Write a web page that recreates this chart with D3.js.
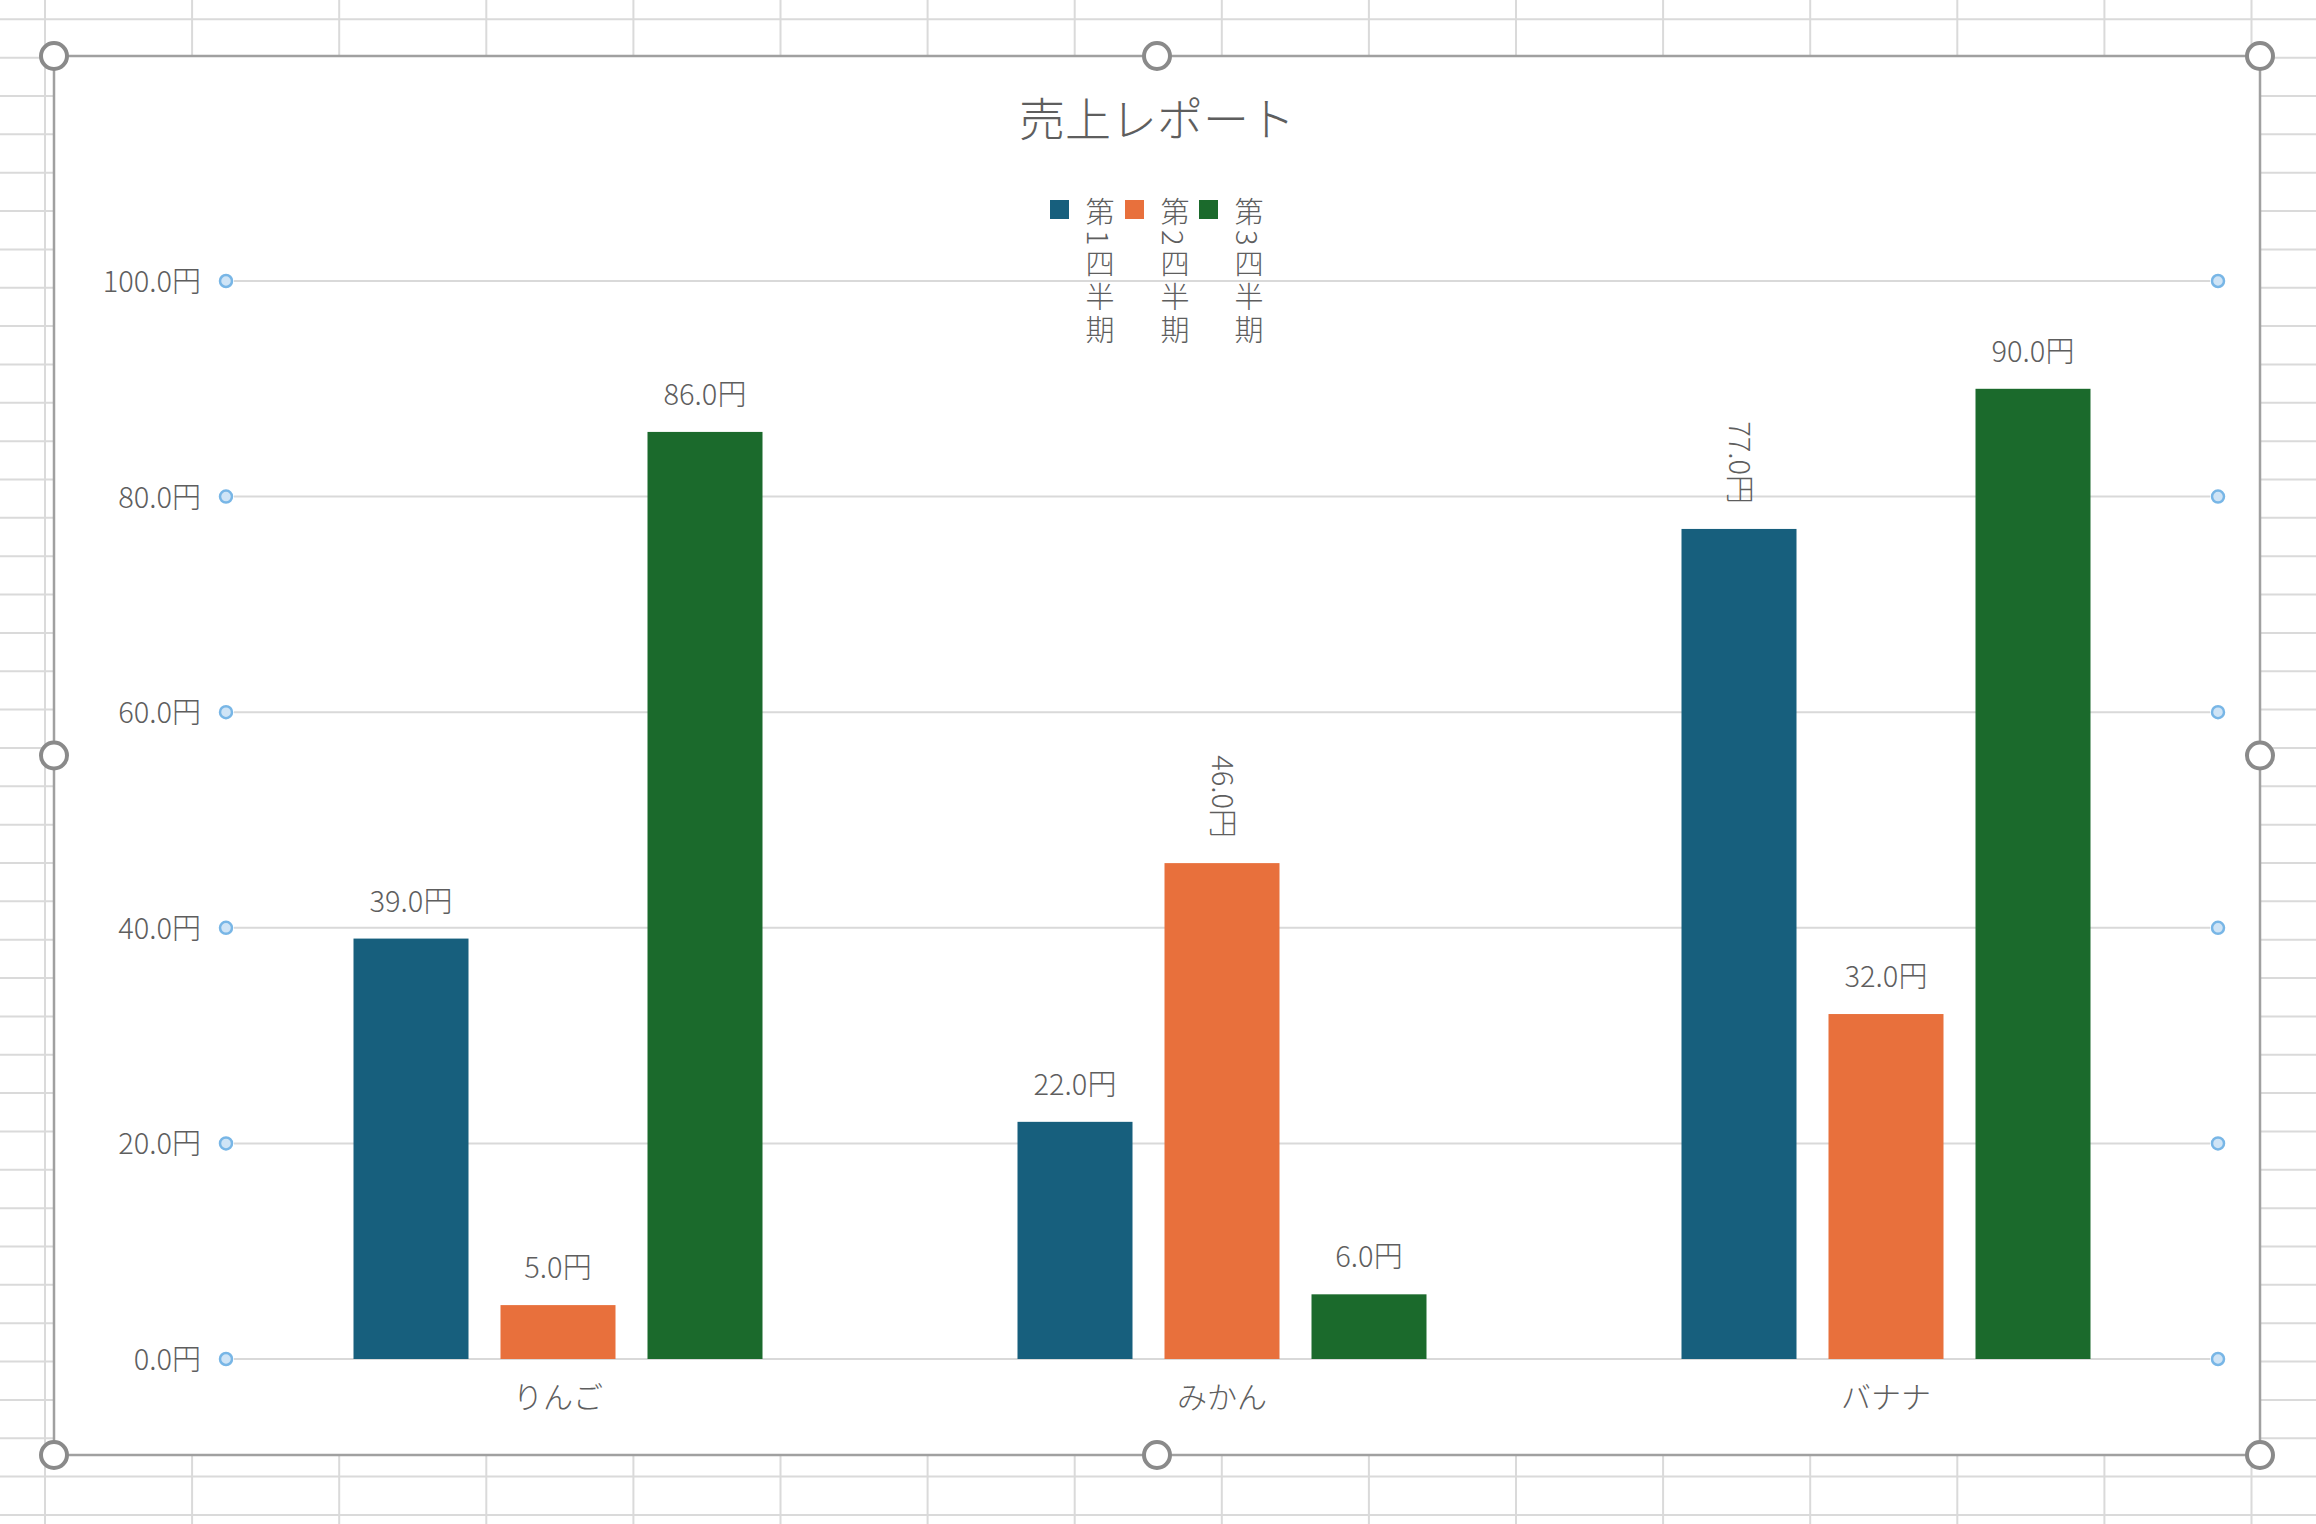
<!DOCTYPE html>
<html><head><meta charset="utf-8">
<script src="https://cdn.jsdelivr.net/npm/d3@7/dist/d3.min.js"></script>
<style>
html,body{margin:0;padding:0;background:#fff;}
svg{display:block;}
text{font-family:"Noto Sans CJK JP","Noto Sans",sans-serif;font-weight:300;}
</style></head>
<body>
<svg id="c" width="2316" height="1524"></svg>
<script>
const title = "売上レポート";
const categories = ["りんご", "みかん", "バナナ"];
const seriesNames = ["第1四半期", "第2四半期", "第3四半期"];
const q1 = [39, 22, 77];
const q2 = [5, 46, 32];
const q3 = [86, 6, 90];
const yTicks = [0, 20, 40, 60, 80, 100];
const verticalLabelsQ1 = [false, false, true];
const verticalLabelsQ2 = [false, true, false];
const verticalLabelsQ3 = [false, false, false];
const colors = ["#175f7d", "#e8703c", "#1b6a2c"];

const series = [q1, q2, q3];
const verticalFlags = [verticalLabelsQ1, verticalLabelsQ2, verticalLabelsQ3];

const W = 2316, H = 1524;
const svg = d3.select("#c");
const textColor = "#5e5e5e";
const ff = '"Noto Sans CJK JP","Noto Sans",sans-serif';

// spreadsheet background grid
const bg = svg.append("g");
for (let x = 45; x < W; x += 147.1) {
  bg.append("line").attr("x1", x).attr("x2", x).attr("y1", 0).attr("y2", H)
    .attr("stroke", "#dadada").attr("stroke-width", 2);
}
for (let y = 19.3; y < H; y += 38.35) {
  bg.append("line").attr("x1", 0).attr("x2", W).attr("y1", y).attr("y2", y)
    .attr("stroke", "#dadada").attr("stroke-width", 2);
}

// chart area
const frame = {x0: 54, y0: 56, x1: 2260, y1: 1455};
svg.append("rect").attr("x", frame.x0).attr("y", frame.y0)
  .attr("width", frame.x1 - frame.x0).attr("height", frame.y1 - frame.y0)
  .attr("fill", "#fff").attr("stroke", "#a0a0a0").attr("stroke-width", 2.5);

const plotLeft = 226, plotRight = 2218;
const y = d3.scaleLinear().domain([0, 100]).range([1359, 281]);
const x0 = d3.scaleBand().domain(categories).range([plotLeft, plotRight]).padding(0);
const groupPad = 127.5;
const x1 = d3.scaleBand().domain(seriesNames)
  .range([groupPad, x0.bandwidth() - groupPad]).paddingInner(0.2177).paddingOuter(0);

// gridlines
const grid = svg.append("g");
grid.selectAll("line").data(yTicks).join("line")
  .attr("x1", plotLeft + 8).attr("x2", plotRight - 8)
  .attr("y1", d => y(d)).attr("y2", d => y(d))
  .attr("stroke", "#d9d9d9").attr("stroke-width", 2);

// y axis labels
const yAxis = d3.axisLeft(y).tickValues(yTicks).tickSize(0).tickPadding(0)
  .tickFormat(d => d3.format(".1f")(d) + "円");
const yg = svg.append("g").attr("transform", `translate(${plotLeft - 25},0)`).call(yAxis);
yg.select(".domain").remove();
yg.selectAll("text").attr("font-size", 29).attr("fill", textColor)
  .attr("font-family", ff).attr("font-weight", 300).attr("dy", "0.36em");

// bars
const groups = svg.append("g").selectAll("g").data(categories).join("g")
  .attr("transform", d => `translate(${x0(d)},0)`);
groups.each(function(cat, ci) {
  const g = d3.select(this);
  seriesNames.forEach((s, si) => {
    const v = series[si][ci];
    g.append("rect").attr("x", x1(s)).attr("width", x1.bandwidth())
      .attr("y", y(v)).attr("height", y(0) - y(v)).attr("fill", colors[si]);
    const cx = x1(s) + x1.bandwidth() / 2;
    const label = d3.format(".1f")(v) + "円";
    if (verticalFlags[si][ci]) {
      g.append("text").attr("transform", `translate(${cx},${y(v) - 25}) rotate(90)`)
        .attr("text-anchor", "end").attr("dy", "0.36em")
        .attr("font-size", 29).attr("fill", textColor).text(label);
    } else {
      g.append("text").attr("x", cx).attr("y", y(v) - 27)
        .attr("text-anchor", "middle")
        .attr("font-size", 29).attr("fill", textColor).text(label);
    }
  });
});

// x axis labels
const xAxis = d3.axisBottom(x0).tickSize(0).tickPadding(0);
const xg = svg.append("g").attr("transform", `translate(0,${y(0) + 38})`).call(xAxis);
xg.select(".domain").remove();
xg.selectAll("text").attr("font-size", 30).attr("fill", textColor)
  .attr("font-family", ff).attr("font-weight", 300).attr("dy", "0.36em");

// gridline handles
const handles = svg.append("g");
yTicks.forEach(t => {
  [plotLeft, plotRight].forEach(hx => {
    handles.append("circle").attr("cx", hx).attr("cy", y(t)).attr("r", 6)
      .attr("fill", "#cfe4f6").attr("stroke", "#78b6e6").attr("stroke-width", 2.5);
  });
});

// title
svg.append("text").attr("x", 1157).attr("y", 119).attr("dy", "0.36em")
  .attr("text-anchor", "middle").attr("font-size", 46).attr("fill", textColor)
  .text(title);

// legend
const legendX = [1050, 1125, 1199];
const lg = svg.append("g");
seriesNames.forEach((s, i) => {
  lg.append("rect").attr("x", legendX[i]).attr("y", 200).attr("width", 19).attr("height", 19)
    .attr("fill", colors[i]);
  lg.append("text").attr("x", legendX[i] + 50).attr("y", 197)
    .attr("style", "writing-mode: vertical-rl; letter-spacing: 4px;")
    .attr("font-size", 29).attr("fill", textColor).text(s);
});

// frame handles
const fx = [frame.x0, (frame.x0 + frame.x1) / 2, frame.x1];
const fy = [frame.y0, (frame.y0 + frame.y1) / 2, frame.y1];
fx.forEach((hx, i) => fy.forEach((hy, j) => {
  if (i === 1 && j === 1) return;
  svg.append("circle").attr("cx", hx).attr("cy", hy).attr("r", 13)
    .attr("fill", "#fff").attr("stroke", "#8a8a8a").attr("stroke-width", 4);
}));
</script>
</body></html>
